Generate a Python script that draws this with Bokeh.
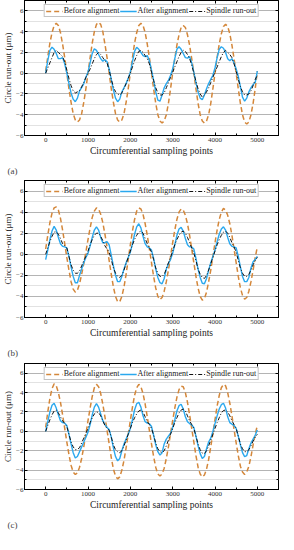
from bokeh.plotting import figure
from bokeh.layouts import column
from bokeh.models import (SingleIntervalTicker, Range1d, Title, Legend, LegendItem, LinearAxis,
                          CustomJSTickFormatter)
from bokeh.embed import file_html
from bokeh.resources import INLINE

# ---------------- data ----------------
x_points = list(range(0, 5001, 50))
x_tick_interval = 1000
y_tick_interval = 2
panel_labels = ["(a)", "(b)", "(c)"]
series_names = ["Before alignment", "After alignment", "Spindle run-out"]

before_a = [0.2, 1.6, 2.9, 3.9, 4.6, 4.8, 4.6, 3.9, 2.8, 1.5, 0.0, -1.5, -2.8, -3.9, -4.5, -4.7, -4.5, -3.9, -2.8, -1.5,
            0.0, 1.5, 2.9, 4.0, 4.7, 4.9, 4.7, 4.0, 2.8, 1.5, 0.0, -1.5, -2.8, -3.9, -4.5, -4.7, -4.5, -3.9, -2.8, -1.5,
            0.0, 1.5, 2.9, 3.9, 4.6, 4.8, 4.6, 3.9, 2.8, 1.5, 0.0, -1.5, -2.9, -4.0, -4.6, -4.8, -4.6, -4.0, -2.9, -1.5,
            0.0, 1.4, 2.7, 3.7, 4.4, 4.6, 4.4, 3.7, 2.7, 1.4, 0.0, -1.5, -2.9, -4.0, -4.6, -4.8, -4.6, -4.0, -2.9, -1.5,
            0.0, 1.5, 2.8, 3.8, 4.5, 4.7, 4.5, 3.8, 2.7, 1.4, 0.0, -1.5, -2.9, -4.0, -4.7, -4.9, -4.7, -4.0, -2.9, -1.5,
            0.2]
after_a = [0.0, 1.2, 2.2, 2.5, 2.3, 1.9, 1.4, 1.4, 1.5, 0.9, 0.0, -1.0, -1.9, -2.5, -2.75, -2.4, -1.7, -1.4, -1.0, -0.4,
           0.1, 1.0, 1.9, 2.35, 2.2, 1.8, 1.4, 1.15, 1.3, 1.1, 0.4, -0.6, -1.6, -2.4, -2.75, -2.5, -1.8, -1.4, -1.0, -0.5,
           0.1, 1.1, 2.1, 2.5, 2.3, 2.0, 1.7, 1.6, 1.7, 1.2, 0.3, -0.7, -1.8, -2.6, -2.7, -2.1, -1.4, -1.0, -0.7, -0.2,
           0.4, 1.4, 2.3, 2.55, 2.3, 1.9, 1.5, 1.45, 1.6, 1.0, 0.1, -0.9, -1.8, -2.4, -2.55, -2.1, -1.5, -1.0, -0.6, -0.2,
           0.5, 1.5, 2.3, 2.55, 2.4, 2.0, 1.4, 1.2, 1.4, 1.0, 0.4, -0.3, -1.3, -2.3, -2.7, -2.4, -1.8, -1.4, -1.1, -0.9,
           0.2]
spindle_a = [0.0, 0.5, 1.0, 1.5, 2.0, 2.2, 2.0, 1.8, 1.6, 1.1, 0.3, -0.5, -1.2, -1.7, -1.9, -1.8, -1.7, -1.3, -0.9, -0.4,
             0.0, 0.4, 0.9, 1.4, 1.8, 2.0, 1.8, 1.5, 1.2, 1.0, 0.3, -0.6, -1.3, -1.8, -2.0, -2.1, -1.9, -1.5, -1.0, -0.5,
             0.0, 0.6, 1.2, 1.7, 2.1, 2.2, 2.0, 1.7, 1.4, 0.9, 0.1, -0.7, -1.4, -1.9, -2.1, -2.1, -1.9, -1.4, -0.9, -0.4,
             0.1, 0.6, 1.1, 1.6, 2.0, 2.2, 2.1, 1.8, 1.4, 0.8, 0.0, -0.8, -1.5, -2.0, -2.3, -2.1, -1.8, -1.4, -0.9, -0.4,
             0.1, 0.6, 1.1, 1.6, 2.0, 2.2, 2.0, 1.8, 1.5, 0.9, 0.2, -0.6, -1.3, -1.8, -2.1, -2.1, -2.0, -1.7, -1.2, -0.6,
             -0.2]

before_b = [0.5, 1.8, 3.0, 3.9, 4.4, 4.5, 4.2, 3.4, 2.3, 1.0, -0.3, -1.5, -2.6, -3.3, -3.6, -3.4, -2.8, -1.9, -0.9, 0.2,
            1.4, 2.5, 3.5, 4.1, 4.4, 4.3, 3.8, 3.0, 1.9, 0.7, -0.6, -1.9, -3.1, -4.0, -4.5, -4.5, -4.0, -3.1, -1.9, -0.5,
            0.9, 2.2, 3.3, 4.1, 4.4, 4.3, 3.8, 2.9, 1.8, 0.5, -0.8, -2.1, -3.2, -4.0, -4.3, -4.1, -3.5, -2.6, -1.5, -0.2,
            1.1, 2.3, 3.3, 4.0, 4.3, 4.2, 3.7, 2.9, 1.8, 0.5, -0.8, -2.1, -3.2, -4.0, -4.35, -4.2, -3.6, -2.6, -1.5, -0.2,
            1.1, 2.3, 3.3, 4.0, 4.35, 4.2, 3.7, 2.9, 1.8, 0.5, -0.8, -2.1, -3.2, -3.9, -4.25, -4.1, -3.5, -2.6, -1.5, -0.3,
            0.7]
after_b = [-0.5, 0.4, 1.4, 2.2, 2.65, 2.3, 1.6, 1.0, 0.75, 0.7, 0.6, -0.2, -1.2, -2.1, -2.7, -2.7, -2.0, -1.4, -0.8, -0.3,
           0.1, 0.8, 1.6, 2.3, 2.6, 2.3, 1.6, 1.1, 1.1, 1.2, 0.9, -0.1, -1.1, -2.0, -2.6, -2.6, -2.1, -1.4, -0.8, -0.3,
           0.2, 1.0, 1.9, 2.6, 2.9, 2.5, 1.7, 1.0, 0.7, 0.6, 0.4, -0.4, -1.4, -2.2, -2.7, -2.8, -2.3, -1.4, -0.9, -0.5,
           0.1, 0.9, 1.8, 2.4, 2.55, 2.2, 1.5, 0.9, 0.7, 0.7, 0.5, -0.4, -1.4, -2.2, -2.75, -2.8, -2.3, -1.5, -0.8, -0.2,
           0.4, 1.2, 1.9, 2.4, 2.6, 2.3, 1.6, 1.0, 0.75, 0.7, 0.6, -0.2, -1.2, -2.1, -2.6, -2.6, -2.2, -1.3, -0.7, -0.5,
           -0.2]
spindle_b = [0.0, 0.6, 1.2, 1.7, 2.1, 2.15, 1.9, 1.5, 1.0, 0.8, 0.6, -0.2, -1.0, -1.5, -1.8, -1.8, -1.6, -1.1, -0.6, -0.2,
             0.3, 0.9, 1.4, 1.8, 2.0, 2.0, 1.7, 1.3, 0.8, 0.5, 0.2, -0.5, -1.3, -1.8, -2.1, -2.2, -2.0, -1.5, -0.9, -0.3,
             0.3, 0.9, 1.4, 1.8, 2.1, 2.2, 2.0, 1.5, 1.0, 0.6, 0.2, -0.5, -1.3, -1.8, -2.1, -2.1, -1.9, -1.4, -0.8, -0.3,
             0.3, 0.9, 1.4, 1.8, 2.1, 2.2, 2.0, 1.6, 1.1, 0.6, 0.1, -0.6, -1.4, -1.9, -2.2, -2.3, -2.0, -1.5, -0.9, -0.3,
             0.3, 0.9, 1.4, 1.8, 2.1, 2.2, 2.0, 1.6, 1.1, 0.7, 0.2, -0.6, -1.3, -1.8, -2.1, -2.1, -1.9, -1.5, -1.0, -0.6,
             -0.3]

before_c = [0.4, 2.0, 3.4, 4.4, 4.9, 4.7, 4.0, 3.0, 1.7, 0.3, -1.1, -2.4, -3.5, -4.2, -4.45, -4.3, -3.7, -2.8, -1.6, -0.3,
            1.1, 2.4, 3.6, 4.5, 4.85, 4.6, 3.9, 2.8, 1.5, 0.1, -1.3, -2.7, -3.9, -4.6, -4.9, -4.7, -4.0, -3.0, -1.7, -0.3,
            1.1, 2.5, 3.7, 4.5, 4.85, 4.6, 3.9, 2.8, 1.5, 0.1, -1.3, -2.6, -3.7, -4.4, -4.6, -4.4, -3.8, -2.8, -1.6, -0.2,
            1.1, 2.4, 3.5, 4.3, 4.65, 4.6, 4.0, 3.0, 1.7, 0.3, -1.1, -2.5, -3.7, -4.4, -4.7, -4.5, -3.9, -2.9, -1.6, -0.2,
            1.2, 2.6, 3.7, 4.5, 4.85, 4.7, 4.0, 2.9, 1.6, 0.2, -1.2, -2.5, -3.6, -4.2, -4.45, -4.2, -3.6, -2.6, -1.4, -0.3,
            0.6]
after_c = [0.0, 1.0, 2.0, 2.7, 2.9, 2.4, 1.7, 1.1, 0.9, 0.85, 0.6, -0.3, -1.3, -2.2, -2.75, -2.6, -2.1, -1.6, -1.1, -0.6,
           -0.1, 0.7, 1.7, 2.5, 2.85, 2.5, 1.8, 1.1, 0.7, 0.4, 0.2, -0.6, -1.7, -2.6, -3.05, -2.8, -2.0, -1.3, -0.8, -0.3,
           0.3, 1.2, 2.2, 2.85, 3.0, 2.5, 1.6, 1.0, 0.85, 0.8, 0.5, -0.4, -1.4, -2.1, -2.45, -2.2, -1.3, -0.8, -0.5, -0.2,
           0.4, 1.2, 2.1, 2.65, 2.8, 2.3, 1.5, 1.0, 0.8, 0.65, 0.4, -0.5, -1.5, -2.3, -2.8, -2.6, -1.8, -1.1, -0.7, 0.0,
           0.8, 1.6, 2.3, 2.75, 2.9, 2.4, 1.5, 0.9, 0.75, 0.6, 0.3, -0.5, -1.4, -2.2, -2.6, -2.5, -1.8, -1.2, -0.8, -0.4,
           0.15]
spindle_c = [0.0, 0.6, 1.2, 1.7, 2.1, 2.2, 1.9, 1.5, 1.1, 0.8, 0.5, -0.3, -1.1, -1.6, -1.9, -1.85, -1.7, -1.2, -0.7, -0.2,
             0.3, 0.9, 1.4, 1.8, 2.0, 1.95, 1.6, 1.1, 0.6, 0.3, 0.1, -0.6, -1.4, -1.9, -2.1, -2.2, -2.0, -1.5, -0.9, -0.3,
             0.3, 0.9, 1.4, 1.8, 2.1, 2.2, 2.0, 1.5, 1.0, 0.7, 0.3, -0.4, -1.2, -1.8, -2.1, -2.2, -2.0, -1.5, -0.9, -0.3,
             0.3, 0.9, 1.4, 1.9, 2.2, 2.3, 2.1, 1.6, 1.1, 0.7, 0.3, -0.5, -1.3, -1.9, -2.25, -2.3, -2.0, -1.5, -0.9, -0.3,
             0.3, 0.9, 1.4, 1.9, 2.15, 2.2, 2.0, 1.6, 1.1, 0.7, 0.3, -0.5, -1.3, -1.8, -2.1, -2.1, -1.9, -1.5, -1.0, -0.6,
             -0.3]

panels = [(before_a, after_a, spindle_a), (before_b, after_b, spindle_b), (before_c, after_c, spindle_c)]

# ---------------- style ----------------
FONT = "Liberation Serif"
C_BEFORE = "#D4873A"
C_AFTER = "#2AA8EE"
C_SPINDLE = "#111111"
heights = [180, 183, 171]
bottoms = [45, 46, 36]


def style_ticks(ax):
    ax.major_tick_in = 3
    ax.major_tick_out = 0
    ax.minor_tick_in = 2
    ax.minor_tick_out = 0
    ax.major_tick_line_color = "black"
    ax.minor_tick_line_color = "black"


def make_panel(idx):
    before, after, spindle = panels[idx]
    p = figure(width=279, height=heights[idx], output_backend="svg", toolbar_location=None,
               x_range=Range1d(-500, 5500), y_range=Range1d(-6, 7),
               min_border_left=0, min_border_right=1, min_border_top=0,
               min_border_bottom=bottoms[idx])
    p.outline_line_color = "black"
    p.outline_line_width = 1

    r1 = p.line(x_points, before, line_color=C_BEFORE, line_width=1.5, line_dash="5 3")
    r2 = p.line(x_points, after, line_color=C_AFTER, line_width=1.4)
    r3 = p.line(x_points, spindle, line_color=C_SPINDLE, line_width=1.0, line_dash="4 2 1 2")

    xt = SingleIntervalTicker(interval=x_tick_interval, num_minor_ticks=2)
    yt = SingleIntervalTicker(interval=y_tick_interval, num_minor_ticks=2)
    p.xaxis.ticker = xt
    p.yaxis.ticker = yt
    p.xgrid.visible = False
    p.ygrid.ticker = yt
    p.ygrid.grid_line_color = "#b4b4b4"
    p.ygrid.grid_line_width = 1
    p.ygrid.minor_grid_line_color = "#e2e2e2"

    for ax in (p.xaxis[0], p.yaxis[0]):
        style_ticks(ax)
        ax.axis_line_color = "black"
        ax.major_label_text_font = FONT
        ax.major_label_text_font_size = "7px"
        ax.major_label_text_color = "#333333"
        ax.major_label_standoff = 1
        ax.axis_label_text_font = FONT
        ax.axis_label_text_font_style = "normal"
        ax.axis_label_text_color = "#222222"
    p.xaxis.axis_label = "Circumferential sampling points"
    p.xaxis.axis_label_text_font_size = "9.5px"
    p.xaxis.axis_label_standoff = 1
    p.xaxis.major_label_standoff = 2
    p.yaxis.axis_label = "Circle run-out (\u03bcm)"
    p.yaxis.axis_label_text_font_size = "9px"
    p.yaxis.axis_label_standoff = 0

    # mirrored tick marks on the top and right edges of the frame
    blank = CustomJSTickFormatter(code="return '';")
    top = LinearAxis(ticker=xt, formatter=blank, major_label_standoff=0,
                     major_label_text_font_size="1px", axis_line_color=None)
    right = LinearAxis(ticker=yt, formatter=blank, major_label_standoff=0,
                       major_label_text_font_size="1px", axis_line_color=None)
    style_ticks(top)
    style_ticks(right)
    p.add_layout(top, "above")
    p.add_layout(right, "right")

    legend = Legend(items=[LegendItem(label=series_names[0], renderers=[r1]),
                           LegendItem(label=series_names[1], renderers=[r2]),
                           LegendItem(label=series_names[2], renderers=[r3])],
                    orientation="horizontal", location="top_center")
    legend.label_text_font = FONT
    legend.label_text_font_size = "8px"
    legend.label_text_color = "#222222"
    legend.glyph_width = 17
    legend.glyph_height = 8
    legend.label_standoff = 1
    legend.label_height = 8
    legend.spacing = 0
    legend.padding = 1
    legend.margin = 4
    legend.border_line_color = "#888888"
    legend.border_line_width = 1
    legend.background_fill_color = "white"
    legend.background_fill_alpha = 1.0
    p.add_layout(legend, "center")

    t = Title(text=panel_labels[idx], text_font=FONT, text_font_size="9px",
              text_font_style="normal", align="left", offset=-17)
    p.add_layout(t, "below")
    return p


figs = [make_panel(i) for i in range(3)]
layout = column(*figs, spacing=0)

open("out.html", "w").write(file_html(layout, INLINE))
